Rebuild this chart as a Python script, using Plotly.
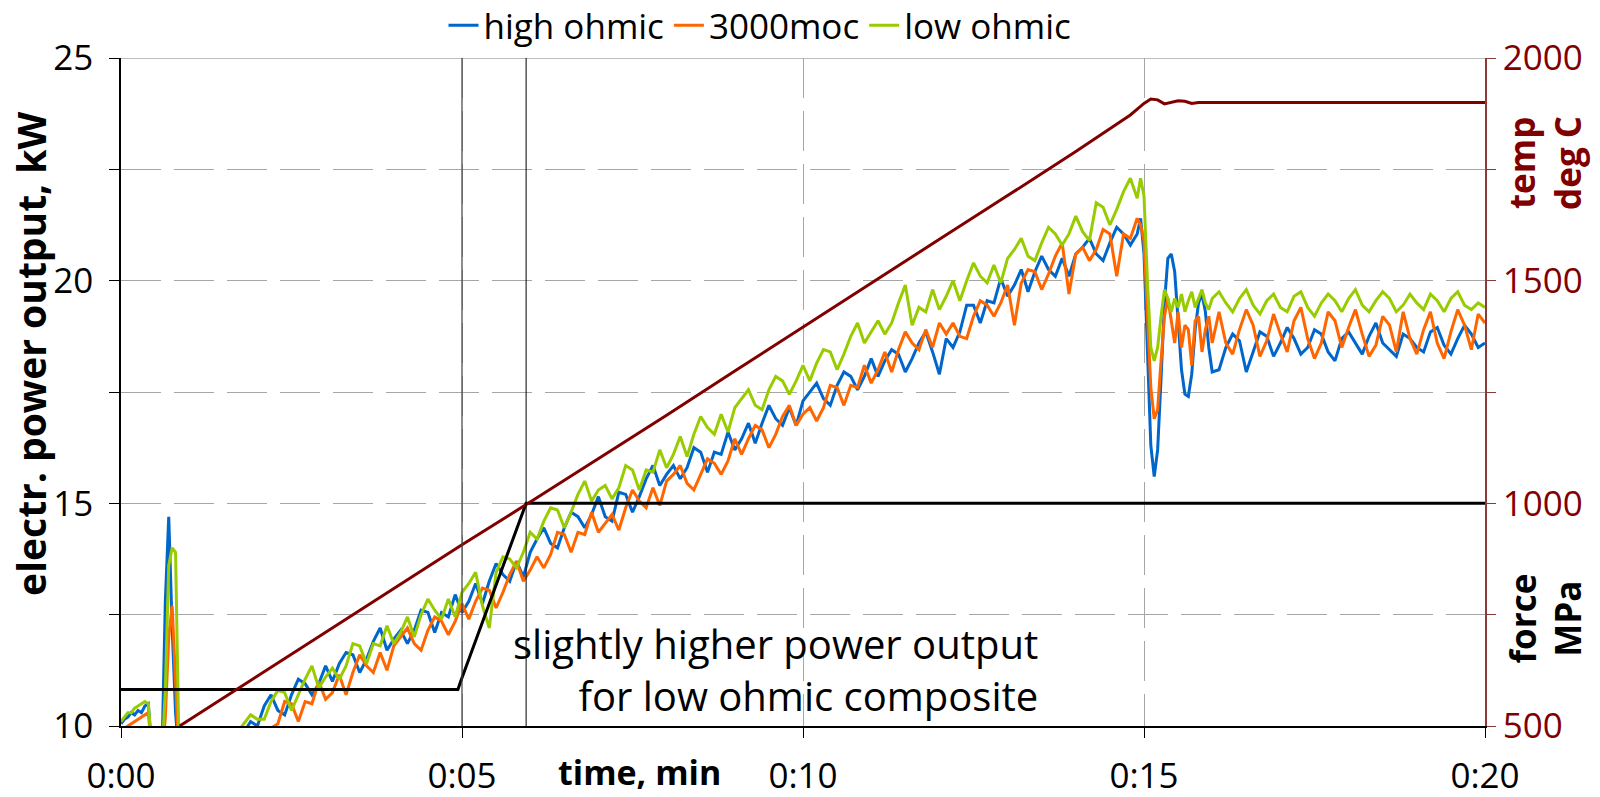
import plotly.graph_objects as go

# ---------------- data ----------------
# time axis (minutes) in four segments
t_a = [round(0.05 * i, 2) for i in range(21)]      # 0.00 .. 1.00
t_b = [round(1.1 + 0.1 * i, 2) for i in range(139)]  # 1.1 .. 14.9
t_c = [round(14.95 + 0.05 * i, 2) for i in range(22)]  # 14.95 .. 16.00
t_d = [round(16.1 + 0.1 * i, 2) for i in range(40)]  # 16.1 .. 20.0
time_min = t_a + t_b + t_c + t_d

# electric power output, kW
high_ohmic = [
    10.05, 10.15, 10.2, 10.3, 10.25, 10.35, 10.3, 10.45, 10.5, 9.5,
    9.3, 9.3, 9.3, 12.8, 14.7, 12.2, 10.3, 9.3, 9.3, 9.3,
    9.4,
    9.5, 9.5, 9.6, 9.6, 9.7, 9.7, 9.8, 9.85, 10.1, 10.0,
    10.45, 10.7, 10.35, 10.25, 10.7, 11.05, 10.95, 10.7, 10.95, 11.35,
    11.0, 11.4, 11.65, 11.6, 11.2, 11.5, 11.9, 12.2, 11.7, 11.95,
    12.15, 11.85, 12.15, 12.6, 12.55, 12.1, 12.55, 12.45, 12.95, 12.55,
    12.8, 13.2, 12.75, 13.25, 13.65, 13.4, 13.25, 13.7, 13.35, 13.9,
    14.2, 14.45, 14.1, 14.0, 14.45, 14.8, 14.7, 14.45, 14.75, 15.15,
    14.7, 14.6, 15.25, 15.2, 14.8, 15.15, 15.55, 15.85, 15.4, 15.65,
    15.85, 15.55, 15.8, 16.25, 16.15, 15.7, 16.15, 16.1, 16.6, 16.2,
    16.45, 16.8, 16.35, 16.8, 17.2, 16.9, 16.75, 17.15, 16.75, 17.3,
    17.5, 17.7, 17.35, 17.2, 17.65, 17.95, 17.85, 17.55, 17.85, 18.25,
    17.85, 18.2, 18.45, 18.35, 17.95, 18.25, 18.6, 18.85, 18.4, 17.9,
    18.7, 18.5, 18.85, 19.45, 19.45, 19.05, 19.55, 19.5, 20.05, 19.65,
    19.9, 20.25, 19.75, 20.2, 20.55, 20.25, 20.1, 20.5, 20.1, 20.6,
    20.75, 20.95, 20.6, 20.45, 20.85, 21.2, 21.05, 20.8, 21.05,
    21.4, 20.6, 18.5, 16.3, 15.6, 16.2, 17.8, 19.5, 20.5, 20.6,
    20.2, 19.2, 18.0, 17.45, 17.4, 17.9, 18.9, 19.5, 19.7, 19.3,
    18.5, 17.95,
    18.0, 18.5, 18.8, 18.65, 17.95, 18.4, 18.85, 18.75, 18.3, 18.6,
    18.95, 18.7, 18.35, 18.5, 18.9, 18.8, 18.4, 18.2, 18.7, 18.85,
    18.6, 18.35, 18.75, 19.05, 18.6, 18.45, 18.3, 18.8, 18.7, 18.5,
    18.4, 18.85, 18.95, 18.55, 18.35, 18.7, 19.0, 18.8, 18.5, 18.6,
]

moc3000 = [
    9.9, 9.95, 10.0, 10.05, 10.1, 10.15, 10.2, 10.25, 10.3, 9.5,
    9.3, 9.3, 9.3, 10.2, 12.0, 12.7, 11.2, 9.3, 9.3, 9.3,
    9.4,
    9.4, 9.4, 9.5, 9.5, 9.5, 9.6, 9.6, 9.7, 9.75, 9.8,
    9.85, 9.95, 10.05, 10.55, 10.5, 10.1, 10.55, 10.5, 11.0, 10.6,
    10.75, 11.15, 10.7, 11.2, 11.6, 11.35, 11.2, 11.65, 11.25, 11.8,
    12.0, 12.2, 11.85, 11.7, 12.15, 12.45, 12.35, 12.05, 12.35, 12.75,
    12.4, 12.8, 13.1, 13.05, 12.65, 13.0, 13.4, 13.7, 13.25, 13.5,
    13.8, 13.55, 13.85, 14.35, 14.3, 13.9, 14.35, 14.3, 14.8, 14.35,
    14.55, 14.75, 14.4, 14.9, 15.3, 15.05, 14.9, 15.35, 14.95, 15.5,
    15.65, 15.85, 15.45, 15.3, 15.65, 16.0, 15.9, 15.65, 15.95, 16.45,
    16.1, 16.45, 16.75, 16.65, 16.25, 16.55, 16.95, 17.2, 16.75, 17.0,
    17.15, 16.85, 17.15, 17.65, 17.6, 17.2, 17.65, 17.6, 18.1, 17.7,
    18.0, 18.4, 17.95, 18.45, 18.85, 18.6, 18.45, 18.9, 18.5, 19.05,
    18.8, 19.05, 18.75, 18.7, 19.2, 19.55, 19.45, 19.2, 19.5, 19.9,
    19.0, 19.95, 20.25, 20.2, 19.8, 20.15, 20.55, 20.85, 19.7, 20.6,
    20.75, 20.45, 20.7, 21.15, 21.05, 20.1, 21.05, 20.95, 21.4,
    21.25, 20.9, 19.2, 17.6, 16.9, 17.1, 18.2, 19.2, 19.6, 19.1,
    18.6, 19.3, 18.5, 19.0, 18.9, 18.1, 19.1, 19.2, 18.4, 18.9,
    19.2, 18.6,
    19.3, 18.6, 18.35, 18.9, 19.35, 19.0, 18.3, 18.65, 19.25, 18.8,
    18.4, 19.1, 19.4, 18.7, 18.25, 18.6, 19.3, 19.1, 18.5, 18.95,
    19.35, 18.8, 18.3, 18.55, 19.2, 19.0, 18.4, 19.3, 18.7, 18.35,
    18.9, 19.3, 18.6, 18.25, 18.85, 19.35, 19.0, 18.45, 19.25, 19.05,
]

low_ohmic = [
    10.1, 10.2, 10.3, 10.3, 10.4, 10.45, 10.5, 10.55, 10.5, 9.5,
    9.3, 9.3, 9.3, 10.8, 13.6, 14.0, 13.9, 9.5, 9.3, 9.3,
    9.4,
    9.5, 9.6, 9.6, 9.7, 9.7, 9.8, 9.85, 10.05, 10.25, 10.15,
    10.15, 10.55, 10.8, 10.75, 10.35, 10.7, 11.05, 11.35, 10.85, 11.1,
    11.3, 11.05, 11.35, 11.85, 11.8, 11.4, 11.85, 11.8, 12.25, 11.85,
    12.1, 12.45, 12.0, 12.5, 12.85, 12.6, 12.4, 12.85, 12.45, 13.0,
    13.2, 13.45, 12.7, 12.2, 13.45, 13.8, 13.75, 13.55, 13.9, 14.35,
    14.2, 14.6, 14.9, 14.85, 14.45, 14.8, 15.2, 15.5, 15.05, 15.3,
    15.4, 15.1, 15.35, 15.85, 15.75, 15.3, 15.75, 15.7, 16.2, 15.8,
    16.1, 16.5, 16.05, 16.55, 16.95, 16.7, 16.55, 17.0, 16.6, 17.15,
    17.35, 17.55, 17.2, 17.1, 17.55, 17.85, 17.75, 17.45, 17.75, 18.1,
    17.75, 18.15, 18.45, 18.4, 18.0, 18.35, 18.75, 19.05, 18.6, 18.85,
    19.1, 18.8, 19.05, 19.5, 19.9, 19.0, 19.4, 19.3, 19.8, 19.35,
    19.65, 20.0, 19.55, 20.0, 20.4, 20.1, 19.95, 20.35, 19.95, 20.5,
    20.7, 20.95, 20.55, 20.45, 20.85, 21.2, 21.05, 20.8, 21.05, 21.45,
    21.1, 20.9, 21.75, 21.65, 21.25, 21.6, 22.0, 22.3, 21.85,
    22.3, 21.9, 20.0, 18.5, 18.2, 18.5, 19.2, 19.8, 19.6, 19.3,
    19.6, 19.4, 19.7, 19.3, 19.55, 19.75, 19.4, 19.6, 19.8, 19.5,
    19.35, 19.6,
    19.75, 19.5, 19.3, 19.6, 19.8, 19.45, 19.25, 19.55, 19.7, 19.4,
    19.3, 19.65, 19.75, 19.4, 19.2, 19.5, 19.7, 19.55, 19.3, 19.6,
    19.8, 19.45, 19.3, 19.55, 19.75, 19.6, 19.3, 19.45, 19.7, 19.5,
    19.35, 19.7, 19.55, 19.3, 19.6, 19.75, 19.45, 19.35, 19.5, 19.4,
]

# temperature, deg C (right axis)
temp_t = [0.86, 2, 3, 4, 5, 6, 7, 8, 9, 10, 11, 12, 13, 14, 14.8,
          15.0, 15.1, 15.2, 15.3, 15.4, 15.5, 15.6, 15.7, 15.8, 20.0]
temp_v = [500, 612, 710, 808, 907, 1003, 1100, 1198, 1297, 1396, 1494, 1593, 1691, 1790, 1872,
          1898, 1908, 1906, 1897, 1900, 1904, 1903, 1898, 1900, 1900]

# force, MPa (right axis)
force_t = [0, 4.94, 4.98, 5.94, 20]
force_v = [582, 582, 600, 1000, 1000]

x_tickvals = [0, 5, 10, 15, 20]
x_ticktext = ["0:00", "0:05", "0:10", "0:15", "0:20"]
y_tickvals = [10, 12.5, 15, 17.5, 20, 22.5, 25]
y_ticktext = ["10", "", "15", "", "20", "", "25"]
y2_tickvals = [500, 750, 1000, 1250, 1500, 1750, 2000]
y2_ticktext = ["500", "", "1000", "", "1500", "", "2000"]

for name, s in [("high", high_ohmic), ("moc", moc3000), ("low", low_ohmic)]:
    assert len(s) == len(time_min), (name, len(s), len(time_min))

# ---------------- figure ----------------
FONT = "Open Sans"
DARKRED = "#800000"
fig = go.Figure()

fig.add_trace(go.Scatter(x=force_t, y=force_v, yaxis="y2", mode="lines",
                         line=dict(color="black", width=3), showlegend=False, hoverinfo="skip"))
fig.add_trace(go.Scatter(x=temp_t, y=temp_v, yaxis="y2", mode="lines",
                         line=dict(color=DARKRED, width=3), showlegend=False, hoverinfo="skip"))
fig.add_trace(go.Scatter(x=time_min, y=high_ohmic, mode="lines", name="high ohmic",
                         line=dict(color="#0066CC", width=3)))
fig.add_trace(go.Scatter(x=time_min, y=moc3000, mode="lines", name="3000moc",
                         line=dict(color="#FF6600", width=3)))
fig.add_trace(go.Scatter(x=time_min, y=low_ohmic, mode="lines", name="low ohmic",
                         line=dict(color="#99CC00", width=3)))

grid = dict(showgrid=True, gridcolor="#A6A6A6", gridwidth=1, griddash="40px,13px")

fig.update_layout(
    width=1600, height=797,
    margin=dict(l=121, r=115, t=58, b=71, autoexpand=False),
    paper_bgcolor="white", plot_bgcolor="white",
    font=dict(family=FONT, size=34, color="black"),
    xaxis=dict(range=[0, 20], tickvals=x_tickvals, ticktext=x_ticktext,
               ticks="outside", ticklen=10, tickcolor="black", ticklabelstandoff=8,
               showline=True, linecolor="black", linewidth=1.5, zeroline=False,
               tickfont=dict(size=35), **grid),
    yaxis=dict(range=[10, 25], tickvals=y_tickvals, ticktext=y_ticktext,
               ticks="outside", ticklen=10, tickcolor="black", ticklabelstandoff=9,
               showline=True, linecolor="black", linewidth=1.5, zeroline=False,
               tickfont=dict(size=35), **grid),
    yaxis2=dict(range=[500, 2000], overlaying="y", side="right",
                tickvals=y2_tickvals, ticktext=y2_ticktext,
                ticks="outside", ticklen=9, tickcolor="#8B3A3A", ticklabelstandoff=0,
                showline=True, linecolor="#8B3A3A", linewidth=1.5, showgrid=False,
                zeroline=False, tickfont=dict(size=35, color=DARKRED)),
    legend=dict(orientation="h", x=0.475, xref="container", xanchor="center",
                y=0.968, yref="container", yanchor="middle",
                font=dict(size=35), bgcolor="rgba(0,0,0,0)", itemwidth=30,
                tracegroupgap=0),
    showlegend=True,
)

# top border and vertical marker lines
fig.add_shape(type="line", xref="x", yref="y", x0=0, x1=20, y0=25, y1=25,
              line=dict(color="#A6A6A6", width=1.5))
fig.add_shape(type="line", xref="x", yref="y", x0=5, x1=5, y0=10, y1=25,
              line=dict(color="#404040", width=1.2))
fig.add_shape(type="line", xref="x", yref="y", x0=5.94, x1=5.94, y0=10, y1=25,
              line=dict(color="black", width=1))

# texts
fig.add_annotation(x=13.48, y=11.27, xref="x", yref="y",
                   text="slightly higher power output<br>for low ohmic composite",
                   showarrow=False, align="right", font=dict(size=40, family=FONT, color="black"),
                   xanchor="right", yanchor="middle")
fig.add_annotation(x=-0.066, y=0.557, xref="paper", yref="paper", text="<b>electr. power output, kW</b>",
                   textangle=-90, showarrow=False, font=dict(size=39, family=FONT, color="black"),
                   xanchor="center", yanchor="middle")
fig.add_annotation(x=0.380, y=-0.0693, xref="paper", yref="paper", text="<b>time, min</b>",
                   showarrow=False, font=dict(size=34, family=FONT, color="black"),
                   xanchor="center", yanchor="middle", borderpad=0)
fig.add_annotation(x=1.044, y=0.843, xref="paper", yref="paper", text="<b>temp<br>deg C</b>",
                   textangle=-90, showarrow=False, font=dict(size=35, family=FONT, color=DARKRED),
                   xanchor="center", yanchor="middle")
fig.add_annotation(x=1.044, y=0.161, xref="paper", yref="paper", text="<b>force<br>MPa</b>",
                   textangle=-90, showarrow=False, font=dict(size=35, family=FONT, color="black"),
                   xanchor="center", yanchor="middle")

fig.write_html("out.html")
